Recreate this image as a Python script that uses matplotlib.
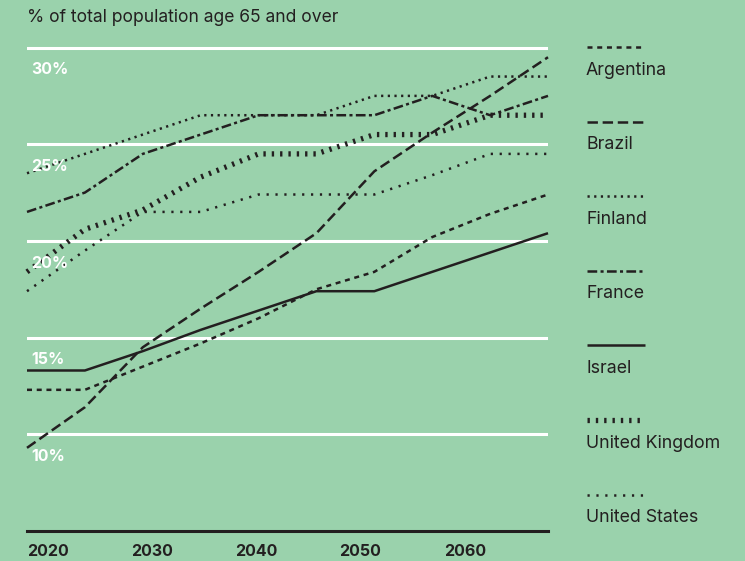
import matplotlib
matplotlib.use("Agg")
import matplotlib.pyplot as plt
import numpy as np

plt.rcParams['font.family'] = ['Inter', 'DejaVu Sans']
plt.rcParams['lines.scale_dashes'] = False

# projection points, 2020 -> 2070
years = np.linspace(2020, 2070, 10)

argentina = [12.3, 12.3, 13.5, 14.7, 16.0, 17.5, 18.4, 20.2, 21.4, 22.4]
brazil = [9.3, 11.4, 14.5, 16.5, 18.4, 20.4, 23.6, 25.6, 27.5, 29.5]
finland = [23.5, 24.5, 25.5, 26.5, 26.5, 26.5, 27.5, 27.5, 28.5, 28.5]
france = [21.5, 22.5, 24.5, 25.5, 26.5, 26.5, 26.5, 27.5, 26.5, 27.5]
israel = [13.3, 13.3, 14.3, 15.4, 16.4, 17.4, 17.4, 18.4, 19.4, 20.4]
uk = [18.4, 20.6, 21.6, 23.3, 24.5, 24.5, 25.5, 25.5, 26.5, 26.5]
us = [17.4, 19.5, 21.5, 21.5, 22.4, 22.4, 22.4, 23.4, 24.5, 24.5]

countries = ['Argentina', 'Brazil', 'Finland', 'France', 'Israel',
             'United Kingdom', 'United States']
values = [argentina, brazil, finland, france, israel, uk, us]

tick_years = [2020, 2030, 2040, 2050, 2060]
grid_levels = [10, 15, 20, 25, 30]

BG = '#9ad2ac'
INK = '#231f20'

# linewidth, dash pattern (points)
styles = {
    'Argentina': (1.8, (0, (3.6, 3.4))),
    'Brazil': (1.8, (0, (7.5, 3.4))),
    'Finland': (1.8, (0, (1.6, 3.2))),
    'France': (1.8, (0, (7.0, 2.4, 2.2, 2.4))),
    'Israel': (1.8, '-'),
    'United Kingdom': (3.8, (0, (1.7, 4.3))),
    'United States': (1.8, (0, (1.6, 4.8))),
}

fig = plt.figure(figsize=(7.45, 5.61), dpi=100, facecolor=BG)
ax = fig.add_axes([27 / 745, 30 / 561, 521 / 745, 502.8 / 561])
ax.set_facecolor(BG)
ax.set_xlim(2020, 2070)
ax.set_ylim(5, 31)

for lvl in grid_levels:
    ax.axhline(lvl, color='white', lw=2.2, zorder=1)
    ax.annotate(f'{lvl}%', xy=(2020, lvl), xytext=(3, -16),
                textcoords='offset points', ha='left', va='center',
                color='white', fontsize=11.5, fontweight='bold', zorder=5)

for name, vals in zip(countries, values):
    lw, ls = styles[name]
    ax.plot(years, vals, color=INK, lw=lw, linestyle=ls,
            dash_capstyle='butt', solid_capstyle='butt',
            clip_on=False, zorder=3)

for s in ['top', 'right', 'left']:
    ax.spines[s].set_visible(False)
ax.spines['bottom'].set_color(INK)
ax.spines['bottom'].set_linewidth(2.2)
ax.set_yticks([])
ax.set_xticks(tick_years)
ax.set_xticklabels([str(y) for y in tick_years], ha='left',
                   fontsize=11.5, fontweight='bold', color=INK)
ax.tick_params(axis='x', length=0, pad=9)

fig.text(27 / 745, 1 - 17 / 561, '% of total population age 65 and over',
         ha='left', va='center', fontsize=12.6, color=INK)

# legend: sample line above each label
lax = fig.add_axes([0, 0, 1, 1])
lax.set_xlim(0, 745)
lax.set_ylim(561, 0)
lax.axis('off')
for k, name in enumerate(countries):
    lw, ls = styles[name]
    y_line = 47 + k * 74.6
    lax.plot([587, 645], [y_line, y_line], color=INK, lw=lw, linestyle=ls,
             dash_capstyle='butt', solid_capstyle='butt')
    lax.text(586, y_line + 23, name, ha='left', va='center',
             fontsize=12.8, color=INK)

fig.savefig('out.png', dpi=100, facecolor=BG)
